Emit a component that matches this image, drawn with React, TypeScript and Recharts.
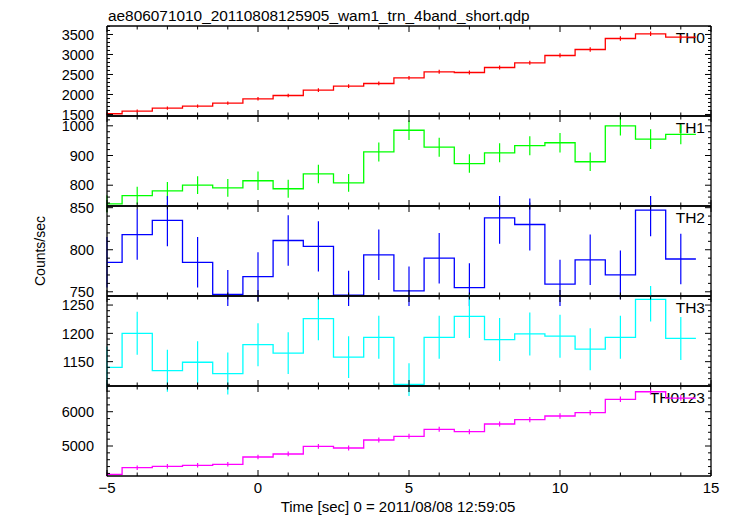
import React from 'react';
import { ComposedChart, Line, XAxis, YAxis, ErrorBar } from 'recharts';

// bin centres (sec), bin width 1 s
const times = [-5, -4, -3, -2, -1, 0, 1, 2, 3, 4, 5, 6, 7, 8, 9, 10, 11, 12, 13, 14];

const th0 = [1518, 1583, 1658, 1708, 1783, 1892, 1975, 2108, 2208, 2275, 2417, 2567, 2550, 2675, 2792, 2975, 3125, 3400, 3517, 3433];
const th0Err = [40, 41, 41, 42, 42, 43, 44, 45, 46, 47, 48, 49, 49, 50, 51, 53, 54, 56, 57, 57];

const th1 = [737, 765, 781, 800, 791, 815, 788, 838, 808, 912, 985, 928, 873, 909, 933, 943, 879, 1000, 955, 971];
const th1Err = [29, 30, 30, 30, 30, 31, 30, 31, 30, 32, 33, 32, 31, 32, 32, 33, 31, 33, 33, 33];

const th2 = [785, 818, 835, 785, 747, 768, 811, 804, 746, 794, 751, 790, 755, 838, 830, 759, 788, 770, 847, 789];
const th2Err = [30, 30, 31, 30, 29, 29, 30, 30, 29, 30, 29, 30, 29, 31, 31, 29, 30, 29, 31, 30];

const th3 = [1140, 1200, 1134, 1149, 1129, 1180, 1165, 1226, 1158, 1193, 1110, 1193, 1230, 1189, 1199, 1195, 1172, 1193, 1260, 1191];
const th3Err = [37, 38, 37, 37, 37, 38, 37, 38, 37, 38, 37, 38, 38, 38, 38, 38, 37, 38, 39, 38];

const th0123 = [4175, 4367, 4408, 4437, 4466, 4679, 4767, 4990, 4942, 5175, 5282, 5486, 5418, 5641, 5767, 5875, 5971, 6361, 6583, 6399];
const th0123Err = [65, 66, 66, 67, 67, 68, 69, 70, 70, 72, 73, 74, 74, 75, 76, 77, 77, 80, 81, 80];

// tick labels
const xLabels = [-5, 0, 5, 10, 15];
const th0Labels = [1500, 2000, 2500, 3000, 3500];
const th1Labels = [800, 900, 1000];
const th2Labels = [750, 800, 850];
const th3Labels = [1150, 1200, 1250];
const th0123Labels = [5000, 6000];

const FONT = '"Liberation Sans", Arial, Helvetica, sans-serif';
const W = 733;
const PLOT_LEFT = 107;
const PLOT_RIGHT = 711;
const TOP = 26;
const PANEL_H = 90;
const PAD = 10;
const AXIS = '#000';

const range = (a: number, b: number, step: number) => {
  const out: number[] = [];
  for (let v = Math.ceil(a / step) * step; v <= b + 1e-9; v += step) out.push(Math.round(v * 100) / 100);
  return out;
};

const panels = [
  { name: 'TH0', values: th0, errors: th0Err, color: '#ff0000', domain: [1462, 3712], labels: th0Labels, minor: 100 },
  { name: 'TH1', values: th1, errors: th1Err, color: '#00ff00', domain: [730, 1033], labels: th1Labels, minor: 20 },
  { name: 'TH2', values: th2, errors: th2Err, color: '#0000ff', domain: [745, 852], labels: th2Labels, minor: 10 },
  { name: 'TH3', values: th3, errors: th3Err, color: '#00ffff', domain: [1107, 1266], labels: th3Labels, minor: 10 },
  { name: 'TH0123', values: th0123, errors: th0123Err, color: '#ff00ff', domain: [4125, 6750], labels: th0123Labels, minor: 200 },
];

const xTicks = range(-5, 15, 1);

const fmt = (v: number) => (v < 0 ? '\u2212' + Math.abs(v) : String(v));

const yTick = (side: 'left' | 'right', labels: number[]) => (props: any) => {
  const x = Number(props.x);
  const y = Number(props.y);
  const v = Number(props.payload.value);
  const major = labels.includes(v);
  const len = major ? 6 : 3;
  const dir = side === 'left' ? 1 : -1;
  return (
    <g>
      <path d={`M${x},${y}H${x + dir * len}`} stroke={AXIS} strokeWidth={1} fill="none" />
      {side === 'left' && major && (
        <text x={x - 13} y={y} dy="0.36em" textAnchor="end" fontSize={14.5} fontFamily={FONT} fill="#000">
          {v}
        </text>
      )}
    </g>
  );
};

const xTick = (side: 'top' | 'bottom', showLabels: boolean) => (props: any) => {
  const x = Number(props.x);
  const y = Number(props.y);
  const v = Number(props.payload.value);
  const major = xLabels.includes(v);
  const len = major ? 6 : 3.5;
  const dir = side === 'top' ? 1 : -1;
  return (
    <g>
      <path d={`M${x},${y}V${y + dir * len}`} stroke={AXIS} strokeWidth={1} fill="none" />
      {showLabels && major && (
        <text x={x} y={y + 17} textAnchor="middle" fontSize={15} fontFamily={FONT} fill="#000">
          {fmt(v)}
        </text>
      )}
    </g>
  );
};

function Panel({ p, index }: { p: (typeof panels)[number]; index: number }) {
  const last = index === panels.length - 1;
  const bottomPad = last ? 45 : PAD;
  const data = times.map((t, i) => ({ t, v: p.values[i], e: p.errors[i] }));
  // close the last bin at its right edge
  data.push({ t: times[times.length - 1] + 0.5, v: p.values[p.values.length - 1], e: 0 });
  const yTicks = range(p.domain[0], p.domain[1], p.minor);
  const axisLine = { stroke: AXIS, strokeWidth: 1.3 };
  return (
    <div style={{ position: 'absolute', left: 0, top: TOP + index * PANEL_H - PAD }}>
      <ComposedChart
        width={W}
        height={PANEL_H + PAD + bottomPad}
        data={data}
        margin={{ top: PAD - 1, right: W - PLOT_RIGHT - 1, bottom: bottomPad - 1, left: 0 }}
      >
        <XAxis
          xAxisId="b"
          dataKey="t"
          type="number"
          orientation="bottom"
          domain={[-5, 15]}
          allowDataOverflow
          ticks={xTicks}
          interval={0}
          height={1}
          tickSize={0}
          tickMargin={0}
          tickLine={false}
          axisLine={axisLine}
          tick={xTick('bottom', last)}
        />
        <XAxis
          xAxisId="t"
          dataKey="t"
          type="number"
          orientation="top"
          domain={[-5, 15]}
          allowDataOverflow
          ticks={xTicks}
          interval={0}
          height={1}
          tickSize={0}
          tickMargin={0}
          tickLine={false}
          axisLine={axisLine}
          tick={xTick('top', false)}
        />
        <YAxis
          yAxisId="l"
          type="number"
          domain={p.domain}
          allowDataOverflow
          ticks={yTicks}
          interval={0}
          width={PLOT_LEFT}
          tickSize={0}
          tickMargin={0}
          tickLine={false}
          axisLine={axisLine}
          tick={yTick('left', p.labels)}
        />
        <YAxis
          yAxisId="r"
          orientation="right"
          type="number"
          domain={p.domain}
          allowDataOverflow
          ticks={yTicks}
          interval={0}
          width={1}
          tickSize={0}
          tickMargin={0}
          tickLine={false}
          axisLine={axisLine}
          tick={yTick('right', p.labels)}
        />
        <Line
          xAxisId="b"
          yAxisId="l"
          dataKey="v"
          type="step"
          stroke={p.color}
          strokeWidth={1.3}
          dot={false}
          activeDot={false}
          isAnimationActive={false}
        >
          <ErrorBar dataKey="e" direction="y" width={0} stroke={p.color} strokeWidth={1.2} />
        </Line>
        <text x={705} y={PAD + 11.5} dy="0.36em" textAnchor="end" fontSize={15.5} fontFamily={FONT} fill="#000">
          {p.name}
        </text>
      </ComposedChart>
    </div>
  );
}

export default function App() {
  return (
    <div style={{ position: 'absolute', left: 0, top: 0, width: W, height: 516, background: '#fff', overflow: 'hidden' }}>
      {panels.map((p, i) => (
        <Panel key={p.name} p={p} index={i} />
      ))}
      <svg width={W} height={516} style={{ position: 'absolute', left: 0, top: 0, pointerEvents: 'none' }}>
        <text x={108} y={21} fontSize={15.4} fontFamily={FONT} fill="#000">
          ae806071010_20110808125905_wam1_trn_4band_short.qdp
        </text>
        <text
          x={0}
          y={0}
          transform="translate(45 251) rotate(-90)"
          textAnchor="middle"
          fontSize={14}
          fontFamily={FONT}
          fill="#000"
        >
          Counts/sec
        </text>
        <text x={398} y={512} textAnchor="middle" fontSize={15} fontFamily={FONT} fill="#000">
          Time [sec] 0 = 2011/08/08 12:59:05
        </text>
      </svg>
    </div>
  );
}
